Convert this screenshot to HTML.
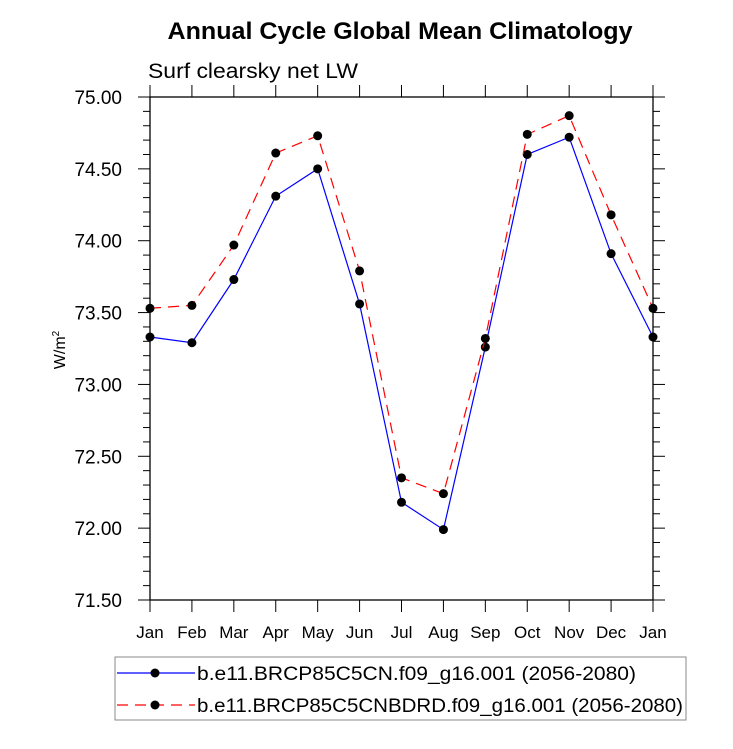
<!DOCTYPE html>
<html><head><meta charset="utf-8"><style>
body{margin:0;background:#fff;}
svg text{font-family:"Liberation Sans",Arial,sans-serif;fill:#000;}
</style></head><body>
<svg id="chart" width="733" height="744" xmlns="http://www.w3.org/2000/svg">
<text x="400" y="39" text-anchor="middle" font-size="24" font-weight="bold" textLength="465" lengthAdjust="spacingAndGlyphs">Annual Cycle Global Mean Climatology</text>
<text x="148" y="78" font-size="21" textLength="210" lengthAdjust="spacingAndGlyphs">Surf clearsky net LW</text>
<text transform="translate(65,350) rotate(-90)" text-anchor="middle" font-size="16">W/m<tspan font-size="10" dy="-6">2</tspan></text>
<g id="axes"></g>
<g id="series"></g>
<g>
<rect x="115" y="657" width="571" height="63" fill="none" stroke="#888" stroke-width="1"/>
<g>
<line x1="117" y1="673" x2="195" y2="673" stroke="#0000ff" stroke-width="1.2"/>
<circle cx="155" cy="673" r="4.5" fill="#000"/>
<text x="197" y="680" font-size="19" textLength="439" lengthAdjust="spacingAndGlyphs">b.e11.BRCP85C5CN.f09_g16.001 (2056-2080)</text>
</g>
<g>
<line x1="117" y1="705" x2="195" y2="705" stroke="#ff0000" stroke-width="1.2" stroke-dasharray="11,7"/>
<circle cx="155" cy="705" r="4.5" fill="#000"/>
<text x="197" y="712" font-size="19" textLength="486" lengthAdjust="spacingAndGlyphs">b.e11.BRCP85C5CNBDRD.f09_g16.001 (2056-2080)</text>
</g>
</g>
</svg>
<script>
const months = ["Jan","Feb","Mar","Apr","May","Jun","Jul","Aug","Sep","Oct","Nov","Dec","Jan"];
const seriesCN = [73.33,73.29,73.73,74.31,74.50,73.56,72.18,71.99,73.26,74.60,74.72,73.91,73.33];
const seriesBDRD = [73.53,73.55,73.97,74.61,74.73,73.79,72.35,72.24,73.32,74.74,74.87,74.18,73.53];
const yTicks = ["71.50","72.00","72.50","73.00","73.50","74.00","74.50","75.00"];
const yMin = 71.5, yMax = 75.0;
const L=150,R=653,T=97,B=600;
const NS="http://www.w3.org/2000/svg";
const xs = i => L + (R-L)*i/(months.length-1);
const ys = v => B - (B-T)*(v-yMin)/(yMax-yMin);
function mk(tag,attrs,parent){const e=document.createElementNS(NS,tag);for(const k in attrs)e.setAttribute(k,attrs[k]);parent.appendChild(e);return e;}
const ax=document.getElementById('axes');
const frame=mk('rect',{x:L,y:T,width:R-L,height:B-T,fill:'none',stroke:'#000','stroke-width':1.3},ax);


for(let v=yMin; v<=yMax+1e-9; v+=0.1){
  const y=ys(v);
  const major=Math.abs((v-yMin)/0.5-Math.round((v-yMin)/0.5))<1e-6;
  const len=major?12:7;
  mk('line',{x1:L-len,y1:y,x2:L,y2:y,stroke:'#000','stroke-width':1},ax);
  mk('line',{x1:R,y1:y,x2:R+len,y2:y,stroke:'#000','stroke-width':1},ax);
}
yTicks.forEach(t=>{
  const tx=mk('text',{x:L-28,y:ys(parseFloat(t))+7,'text-anchor':'end','font-size':19},ax);
  
  
  tx.textContent=t;
});
months.forEach((m,i)=>{
  const x=xs(i);
  mk('line',{x1:x,y1:B,x2:x,y2:B+12,stroke:'#000','stroke-width':1},ax);
  mk('line',{x1:x,y1:T,x2:x,y2:T-12,stroke:'#000','stroke-width':1},ax);
  const tx=mk('text',{x:x,y:B+38,'text-anchor':'middle','font-size':17},ax);
  
  
  tx.textContent=m;
});
const sg=document.getElementById('series');
function draw(data,color,dash,name){
  const g=mk('g',{},sg);
  
  
  const pts=data.map((v,i)=>xs(i)+','+ys(v)).join(' ');
  const attrs={points:pts,fill:'none',stroke:color,'stroke-width':1.2};
  if(dash)attrs['stroke-dasharray']=dash;
  mk('polyline',attrs,g);
  data.forEach((v,i)=>{
    const c=mk('circle',{cx:xs(i),cy:ys(v),r:4.5,fill:'#000'},g);
    
    
  });
}
draw(seriesCN,'#0000ff',null,'series-cn');
draw(seriesBDRD,'#ff0000','11,7','series-cnbdrd');
</script>
</body></html>
